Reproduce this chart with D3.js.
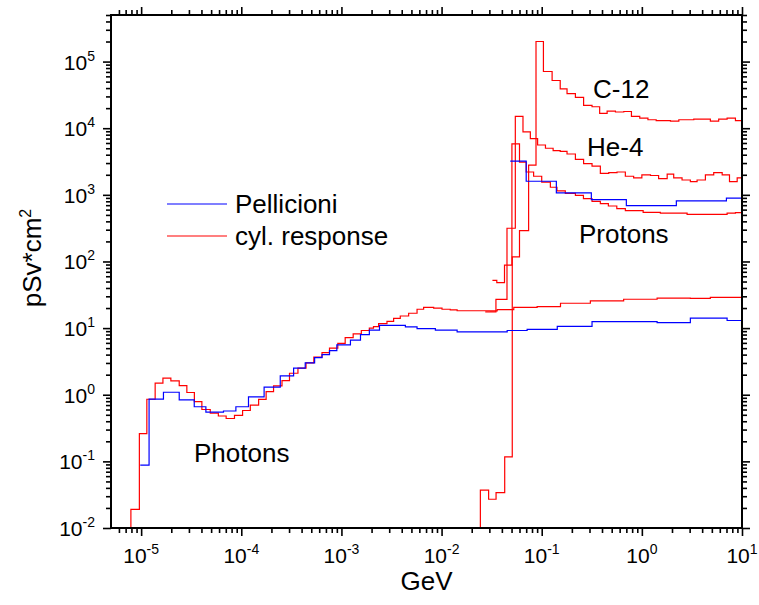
<!DOCTYPE html>
<html>
<head>
<meta charset="utf-8">
<script src="https://cdn.jsdelivr.net/npm/d3@7"></script>
<style>
  body { margin: 0; background: #fff; }
  text { font-family: "Liberation Sans", Arial, sans-serif; fill: #000; }
</style>
</head>
<body>
<svg id="chart" width="759" height="605"></svg>
<script>
  // bin left edges (GeV) and values (pSv*cm2); last bin runs to endE
  var endE = 10;

  // photons, cyl. response
  var photonCylE = [7.0e-6, 7.9e-6, 9.6e-6, 1.14e-5, 1.38e-5, 1.65e-5, 1.98e-5, 2.4e-5, 2.86e-5, 3.4e-5, 4.04e-5, 4.9e-5, 5.9e-5, 7.06e-5, 8.55e-5, 1.03e-4, 1.23e-4, 1.49e-4, 1.77e-4, 2.1e-4, 2.55e-4, 3.03e-4, 3.68e-4, 4.43e-4, 5.3e-4, 6.4e-4, 7.6e-4, 9.2e-4, 1.09e-3, 1.31e-3, 1.58e-3, 1.9e-3, 2.09e-3, 2.35e-3, 2.85e-3, 3.32e-3, 3.87e-3, 4.69e-3, 5.69e-3, 6.62e-3, 8.34e-3, 1.01e-2, 1.22e-2, 1.43e-2, 3.08e-2, 3.59e-2, 5.26e-2, 9.0e-2, 0.154, 0.306, 0.658, 1.42, 3.05, 4.83];
  var photonCylV = [0.001, 0.019, 0.26, 0.855, 1.49, 1.77, 1.61, 1.37, 1.08, 0.79, 0.60, 0.53, 0.48, 0.44, 0.49, 0.58, 0.70, 0.85, 1.11, 1.36, 1.63, 2.1, 2.5, 3.0, 3.66, 4.3, 5.0, 5.9, 7.2, 8.2, 9.2, 10.0, 10.5, 11.7, 12.6, 14.0, 15.2, 16.7, 19.2, 20.4, 20.0, 19.2, 18.8, 18.2, 18.1, 19.0, 20.4, 21, 23.6, 25.6, 27.1, 28.2, 28.0, 29];

  // photons, Pellicioni
  var photonPelE = [9.8e-6, 1.2e-5, 1.67e-5, 2.4e-5, 3.39e-5, 4.43e-5, 6.64e-5, 8.83e-5, 1.18e-4, 1.69e-4, 2.45e-4, 3.33e-4, 4.35e-4, 5.4e-4, 6.4e-4, 7.6e-4, 9.0e-4, 1.23e-3, 1.55e-3, 1.9e-3, 2.4e-3, 4.35e-3, 5.69e-3, 8.67e-3, 1.43e-2, 4.52e-2, 7.15e-2, 0.143, 0.318, 1.42, 3.05, 7.1];
  var photonPelV = [0.088, 0.86, 1.09, 0.84, 0.66, 0.55, 0.57, 0.66, 0.93, 1.30, 1.92, 2.5, 3.0, 3.6, 4.0, 4.6, 5.6, 6.6, 8.0, 9.3, 11.0, 10.4, 9.8, 9.3, 8.8, 9.2, 9.6, 10.6, 12.5, 12.1, 14.1, 13.0];

  // protons, cyl. response
  var protonCylE = [3.22e-2, 3.56e-2, 4.25e-2, 5.04e-2, 6.0e-2, 7.0e-2, 8.3e-2, 0.1, 0.122, 0.142, 0.172, 0.217, 0.261, 0.318, 0.385, 0.463, 0.562, 0.684, 1.03, 1.53, 2.83, 7.1, 8.6];
  var protonCylV = [52, 48, 88, 5800, 3100, 2200, 1900, 1550, 1300, 1150, 1050, 980, 880, 800, 740, 680, 620, 580, 545, 530, 510, 530, 540];

  // protons, Pellicioni
  var protonPelE = [4.85e-2, 7.0e-2, 0.14, 0.313, 0.7, 2.21, 6.99];
  var protonPelV = [3200, 1600, 1070, 850, 690, 810, 890];

  // He-4, cyl. response
  var heE = [2.73e-2, 3.49e-2, 4.5e-2, 5.45e-2, 6.5e-2, 7.7e-2, 9.1e-2, 0.109, 0.13, 0.153, 0.179, 0.217, 0.262, 0.318, 0.385, 0.467, 0.565, 0.684, 0.828, 1.0, 1.22, 1.47, 1.79, 2.08, 2.52, 3.05, 3.56, 4.31, 5.22, 6.34, 7.5, 8.95];
  var heV = [17.5, 27, 315, 15000, 8800, 7000, 5600, 5000, 4600, 4500, 4100, 3400, 2950, 2700, 2100, 2150, 2200, 1900, 1800, 2000, 1950, 1750, 2050, 1800, 1670, 1580, 1670, 2000, 2150, 2000, 1580, 1800];

  // C-12, cyl. response
  var cE = [2.2e-2, 2.44e-2, 2.95e-2, 3.5e-2, 4.27e-2, 5.08e-2, 6.0e-2, 7.4e-2, 8.77e-2, 0.104, 0.127, 0.153, 0.179, 0.217, 0.262, 0.318, 0.379, 0.45, 0.545, 0.66, 0.787, 0.953, 1.15, 1.39, 1.93, 2.34, 3.3, 4.83, 5.85, 7.1, 8.6];
  var cV = [0.001, 0.037, 0.027, 0.034, 0.117, 117, 290, 2800, 200000, 71000, 52000, 39000, 33000, 29000, 22000, 21000, 16700, 18000, 17500, 17800, 15000, 14200, 13400, 13000, 12800, 13400, 13700, 12800, 13700, 14200, 13000];

  var xMajor = [1e-5, 1e-4, 1e-3, 1e-2, 1e-1, 1, 10];
  var xExp = ["-5", "-4", "-3", "-2", "-1", "0", "1"];
  var yMajor = [1e-2, 1e-1, 1, 10, 100, 1e3, 1e4, 1e5];
  var yExp = ["-2", "-1", "0", "1", "2", "3", "4", "5"];

  var series = [
    { e: photonCylE, v: photonCylV, color: "#ff0000" },
    { e: protonCylE, v: protonCylV, color: "#ff0000" },
    { e: heE, v: heV, color: "#ff0000" },
    { e: cE, v: cV, color: "#ff0000" },
    { e: photonPelE, v: photonPelV, color: "#0000ff" },
    { e: protonPelE, v: protonPelV, color: "#0000ff" }
  ];

  var svg = d3.select("#chart"),
      margin = { top: 15, right: 17, bottom: 77, left: 111 },
      W = +svg.attr("width"), H = +svg.attr("height"),
      x0 = margin.left, x1 = W - margin.right,
      y0 = H - margin.bottom, y1 = margin.top;

  var x = d3.scaleLog().domain([5e-6, 10]).range([x0, x1]);
  var y = d3.scaleLog().domain([1e-2, 5e5]).range([y0, y1]);

  // minor ticks 2..9 per decade
  function minors(lo, hi) {
    var out = [];
    for (var d = Math.floor(Math.log10(lo)); d <= Math.ceil(Math.log10(hi)); d++) {
      for (var m = 2; m <= 9; m++) {
        var t = m * Math.pow(10, d);
        if (t >= lo && t <= hi) out.push(t);
      }
    }
    return out;
  }
  var xMinor = minors(5e-6, 10), yMinor = minors(1e-2, 5e5);

  svg.append("defs").append("clipPath").attr("id", "plot")
    .append("rect").attr("x", x0).attr("y", y1).attr("width", x1 - x0).attr("height", y0 - y1);

  var line = d3.line()
      .x(function(d) { return x(d[0]); })
      .y(function(d) { return y(d[1]); })
      .curve(d3.curveStepAfter);

  var g = svg.append("g").attr("clip-path", "url(#plot)");
  series.forEach(function(s) {
    var pts = s.e.map(function(e, i) { return [e, s.v[i]]; });
    pts.push([endE, s.v[s.v.length - 1]]);
    g.append("path")
      .attr("d", line(pts))
      .attr("fill", "none")
      .attr("stroke", s.color)
      .attr("stroke-width", 1.2);
  });

  // axes: outward on bottom/left, inward on top/right
  function styleAxis(sel) {
    sel.select(".domain").remove();
    sel.selectAll("line").attr("stroke", "#000").attr("stroke-width", 1.6);
  }
  var axes = [
    [d3.axisBottom, x, xMajor, xMinor, "translate(0," + y0 + ")", false],
    [d3.axisBottom, x, xMajor, xMinor, "translate(0," + y1 + ")", true],
    [d3.axisLeft, y, yMajor, yMinor, "translate(" + x0 + ",0)", false],
    [d3.axisLeft, y, yMajor, yMinor, "translate(" + x1 + ",0)", true]
  ];
  axes.forEach(function(a) {
    var big = a[0](a[1]).tickValues(a[2]).tickSize(a[5] ? -8 : 8).tickSizeOuter(0).tickFormat("");
    var small = a[0](a[1]).tickValues(a[3]).tickSize(a[5] ? -5 : 5).tickSizeOuter(0).tickFormat("");
    svg.append("g").attr("transform", a[4]).call(big).call(styleAxis);
    svg.append("g").attr("transform", a[4]).call(small).call(styleAxis);
  });

  svg.append("rect")
    .attr("x", x0).attr("y", y1).attr("width", x1 - x0).attr("height", y0 - y1)
    .attr("fill", "none").attr("stroke", "#000").attr("stroke-width", 2);

  // tick labels 10^n
  xMajor.forEach(function(v, i) {
    var t = svg.append("text").attr("x", x(v)).attr("y", y0 + 35)
      .attr("text-anchor", "middle").attr("font-size", 21);
    t.append("tspan").text("10");
    t.append("tspan").attr("dy", -9).attr("font-size", 14).text(xExp[i]);
  });
  yMajor.forEach(function(v, i) {
    var t = svg.append("text").attr("x", x0 - 16).attr("y", y(v) + 8)
      .attr("text-anchor", "end").attr("font-size", 21);
    t.append("tspan").text("10");
    t.append("tspan").attr("dy", -9).attr("font-size", 14).text(yExp[i]);
  });

  // axis titles
  svg.append("text").attr("x", (x0 + x1) / 2).attr("y", 590)
    .attr("text-anchor", "middle").attr("font-size", 26).text("GeV");
  var yt = svg.append("text").attr("transform", "translate(41,258) rotate(-90)")
    .attr("text-anchor", "middle").attr("font-size", 26);
  yt.append("tspan").text("pSv*cm");
  yt.append("tspan").attr("dy", -10).attr("font-size", 16).text("2");

  // curve labels
  var labels = [
    ["C-12", 593, 98], ["He-4", 587, 156], ["Protons", 579, 243], ["Photons", 194, 462]
  ];
  labels.forEach(function(l) {
    svg.append("text").attr("x", l[1]).attr("y", l[2]).attr("font-size", 26).text(l[0]);
  });

  // legend
  var legend = [["Pellicioni", "#0000ff"], ["cyl. response", "#ff0000"]];
  legend.forEach(function(l, i) {
    var ly = 204 + i * 32;
    svg.append("line").attr("x1", 167).attr("x2", 227).attr("y1", ly).attr("y2", ly)
      .attr("stroke", l[1]).attr("stroke-width", 1.2);
    svg.append("text").attr("x", 235).attr("y", ly + 9).attr("font-size", 26).text(l[0]);
  });
</script>
</body>
</html>
